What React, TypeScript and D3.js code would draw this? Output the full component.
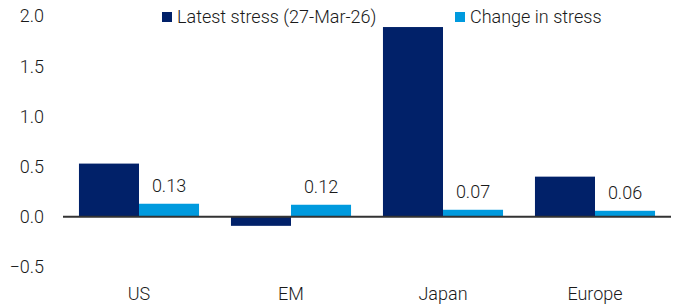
import React from 'react';
import * as d3 from 'd3';

const categories = ['US', 'EM', 'Japan', 'Europe'];
const latestStress = [0.53, -0.09, 1.89, 0.4];
const changeInStress = [0.13, 0.12, 0.07, 0.06];
const yTicks = [-0.5, 0.0, 0.5, 1.0, 1.5, 2.0];
const seriesNames = ['Latest stress (27-Mar-26)', 'Change in stress'];

const DARK = '#012169';
const LIGHT = '#009ADE';
const FONT = '"Roboto", sans-serif';

const App = () => {
  const width = 676;
  const height = 306;
  const left = 63;
  const right = 671;

  const y = d3.scaleLinear().domain([-0.5, 2.0]).range([267, 16]);
  const x = d3.scaleBand().domain(categories).range([left, right]).paddingInner(0.21).paddingOuter(0.105);
  const inner = d3.scaleBand().domain(['latest', 'change']).range([0, x.bandwidth()]);

  return (
    <svg width={width} height={height} style={{ position: 'absolute', left: 0, top: 0, fontFamily: FONT, fontWeight: 300 }}>
      {yTicks.map((t) => (
        <text key={t} x={44} y={y(t)} dy="0.35em" textAnchor="end" fontSize={18} fill="#1a1a1a">
          {d3.format('.1f')(t)}
        </text>
      ))}
      {categories.map((c, i) => {
        const x0 = x(c) as number;
        const l = latestStress[i];
        const ch = changeInStress[i];
        return (
          <g key={c}>
            <rect x={x0 + (inner('latest') as number)} y={y(Math.max(0, l))} width={inner.bandwidth()} height={Math.abs(y(l) - y(0))} fill={DARK} />
            <rect x={x0 + (inner('change') as number)} y={y(Math.max(0, ch))} width={inner.bandwidth()} height={Math.abs(y(ch) - y(0))} fill={LIGHT} />
            <text x={x0 + (inner('change') as number) + inner.bandwidth() / 2} y={y(ch) - 12} textAnchor="middle" fontSize={18} fill="#1a1a1a">
              {d3.format('.2f')(ch)}
            </text>
            <text x={x0 + x.bandwidth() / 2} y={y(-0.5) + 27} dy="0.35em" textAnchor="middle" fontSize={18} fill="#1a1a1a">
              {c}
            </text>
          </g>
        );
      })}
      <line x1={left} x2={right} y1={y(0)} y2={y(0)} stroke="#333" strokeWidth={2} />
      <g>
        <rect x={162} y={12} width={10} height={10} fill={DARK} />
        <text x={177} y={17} dy="0.35em" fontSize={18} fill="#1a1a1a">{seriesNames[0]}</text>
        <rect x={455} y={12} width={10} height={10} fill={LIGHT} />
        <text x={470} y={17} dy="0.35em" fontSize={18} fill="#1a1a1a">{seriesNames[1]}</text>
      </g>
    </svg>
  );
};

export default App;
